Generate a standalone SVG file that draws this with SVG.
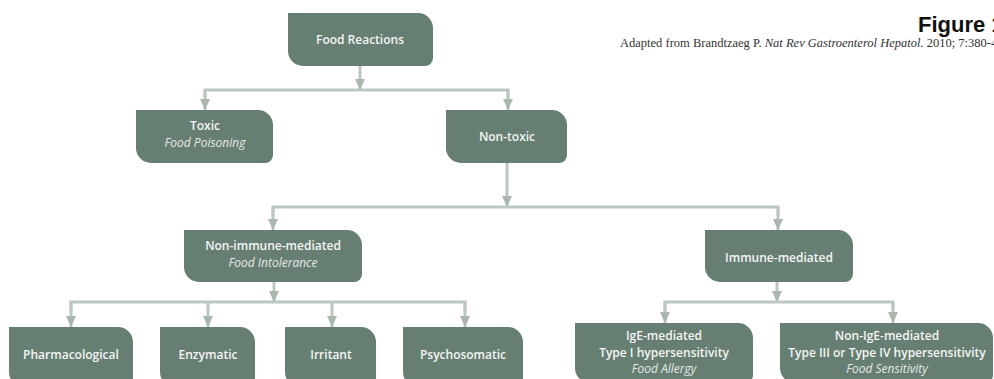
<svg xmlns="http://www.w3.org/2000/svg" width="994" height="379" viewBox="0 0 994 379">
<defs>
<style>
.box{fill:#677f73}
.t{font-family:"Open Sans","Noto Sans",sans-serif;font-size:12px;font-weight:600;fill:#f4f5f4;text-anchor:middle}
.i{font-family:"Open Sans","Noto Sans",sans-serif;font-size:12px;font-style:italic;font-weight:400;fill:#e6e9e7;text-anchor:middle}
.c{fill:none;stroke:#bcc7c1;stroke-width:3}
.s{fill:none;stroke:#bcc7c1;stroke-width:3;marker-end:url(#ah)}
</style>
<marker id="ah" markerUnits="userSpaceOnUse" markerWidth="12" markerHeight="10" refX="11" refY="5" orient="auto" viewBox="0 0 12 10">
<path d="M0,0 L11,5 L0,10 z" fill="#a9b7af"/>
</marker>
</defs>
<rect width="994" height="379" fill="#ffffff"/>
<g id="header">
<text x="918" y="32" font-family="'Liberation Sans',Arial,sans-serif" font-size="22" font-weight="bold" fill="#111">Figure 1</text>
<text x="620" y="47" font-family="'Liberation Serif','Times New Roman',serif" font-size="12.5" fill="#333">Adapted from Brandtzaeg P. <tspan font-style="italic">Nat Rev Gastroenterol Hepatol.</tspan> 2010; 7:380-400.</text>
</g>
<g id="connectors">
<line class="s" x1="360" y1="66" x2="360" y2="90"/>
<polyline class="c" points="205,98 205,90 508,90 508,98"/>
<line class="s" x1="205" y1="90" x2="205" y2="110"/>
<line class="s" x1="508" y1="90" x2="508" y2="110"/>
<line class="s" x1="507" y1="163" x2="507" y2="207"/>
<polyline class="c" points="273,215 273,207 778,207 778,215"/>
<line class="s" x1="273" y1="207" x2="273" y2="230"/>
<line class="s" x1="778" y1="207" x2="778" y2="230"/>
<line class="s" x1="274" y1="282" x2="274" y2="302"/>
<polyline class="c" points="71,310 71,302 465,302 465,310"/>
<line class="s" x1="71" y1="302" x2="71" y2="327"/>
<line class="s" x1="208" y1="302" x2="208" y2="327"/>
<line class="s" x1="332" y1="302" x2="332" y2="327"/>
<line class="s" x1="465" y1="302" x2="465" y2="327"/>
<line class="s" x1="777" y1="282" x2="777" y2="302"/>
<polyline class="c" points="665,310 665,302 893,302 893,310"/>
<line class="s" x1="665" y1="302" x2="665" y2="323"/>
<line class="s" x1="893" y1="302" x2="893" y2="323"/>
</g>
<g id="food-reactions">
<path class="box" d="M288,13 H418 A15,15 0 0 1 433,28 V58 A8,8 0 0 1 425,66 H303 A15,15 0 0 1 288,51 Z"/>
<text class="t" x="360" y="44">Food Reactions</text>
</g>
<g id="toxic">
<path class="box" d="M136,110 H258 A15,15 0 0 1 273,125 V155 A8,8 0 0 1 265,163 H151 A15,15 0 0 1 136,148 Z"/>
<text class="t" x="205" y="130">Toxic</text>
<text class="i" x="205" y="147">Food Poisoning</text>
</g>
<g id="non-toxic">
<path class="box" d="M446,110 H552 A15,15 0 0 1 567,125 V155 A8,8 0 0 1 559,163 H461 A15,15 0 0 1 446,148 Z"/>
<text class="t" x="507" y="141">Non-toxic</text>
</g>
<g id="non-immune">
<path class="box" d="M184,230 H347 A15,15 0 0 1 362,245 V274 A8,8 0 0 1 354,282 H199 A15,15 0 0 1 184,267 Z"/>
<text class="t" x="273" y="250">Non-immune-mediated</text>
<text class="i" x="273" y="267">Food Intolerance</text>
</g>
<g id="immune">
<path class="box" d="M705,230 H838 A15,15 0 0 1 853,245 V274 A8,8 0 0 1 845,282 H720 A15,15 0 0 1 705,267 Z"/>
<text class="t" x="779" y="262">Immune-mediated</text>
</g>
<g id="pharmacological">
<path class="box" d="M9,327 H118 A15,15 0 0 1 133,342 V379 A8,8 0 0 1 125,387 H24 A15,15 0 0 1 9,372 Z"/>
<text class="t" x="71" y="359">Pharmacological</text>
</g>
<g id="enzymatic">
<path class="box" d="M160,327 H240 A15,15 0 0 1 255,342 V379 A8,8 0 0 1 247,387 H175 A15,15 0 0 1 160,372 Z"/>
<text class="t" x="208" y="359">Enzymatic</text>
</g>
<g id="irritant">
<path class="box" d="M285,327 H361 A15,15 0 0 1 376,342 V379 A8,8 0 0 1 368,387 H300 A15,15 0 0 1 285,372 Z"/>
<text class="t" x="331" y="359">Irritant</text>
</g>
<g id="psychosomatic">
<path class="box" d="M403,327 H508 A15,15 0 0 1 523,342 V379 A8,8 0 0 1 515,387 H418 A15,15 0 0 1 403,372 Z"/>
<text class="t" x="463" y="359">Psychosomatic</text>
</g>
<g id="ige">
<path class="box" d="M575,323 H738 A15,15 0 0 1 753,338 V375 A8,8 0 0 1 745,383 H590 A15,15 0 0 1 575,368 Z"/>
<text class="t" x="664" y="340">IgE-mediated</text>
<text class="t" x="664" y="357">Type I hypersensitivity</text>
<text class="i" x="664" y="373">Food Allergy</text>
</g>
<g id="non-ige">
<path class="box" d="M780,323 H978 A15,15 0 0 1 993,338 V375 A8,8 0 0 1 985,383 H795 A15,15 0 0 1 780,368 Z"/>
<text class="t" x="887" y="340">Non-IgE-mediated</text>
<text class="t" x="887" y="357">Type III or Type IV hypersensitivity</text>
<text class="i" x="887" y="373">Food Sensitivity</text>
</g>
</svg>
